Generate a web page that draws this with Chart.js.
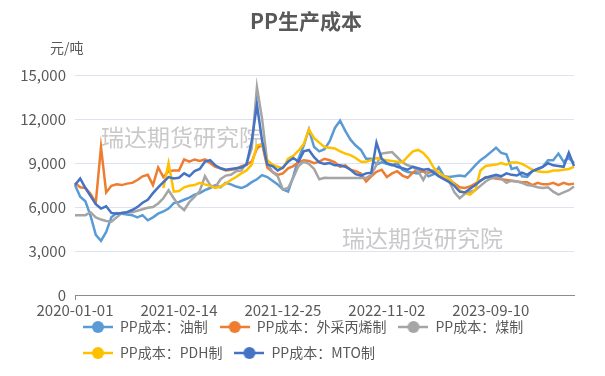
<!DOCTYPE html>
<html>
<head>
<meta charset="utf-8">
<script src="https://cdn.jsdelivr.net/npm/chart.js@4.4.1/dist/chart.umd.min.js"></script>
<style>
  html, body { margin: 0; padding: 0; background: #fff; }
  #wrap { width: 605px; height: 376px; position: relative; }
</style>
</head>
<body>
<div id="wrap"><canvas id="ppChart"></canvas></div>
<script>
// x axis labels, one every 20 points
const tickLabels = ['2020-01-01', '2021-02-14', '2021-12-25', '2022-11-02', '2023-09-10'];
const tickEvery = 20;

// PP成本：油制
const oilCost = [7500,6700,6400,5400,4100,3700,4300,5300,5600,5550,
  5500,5450,5300,5450,5100,5300,5550,5700,5900,6270,
  6350,6500,6650,6850,6950,7160,7300,7500,7350,7650,
  7550,7400,7300,7450,7700,7900,8180,8050,7800,7550,
  7200,7050,8100,9300,10200,11300,10100,9800,9950,10500,
  11400,11900,11200,10600,10200,9900,9300,9300,8900,9050,
  8950,8850,9000,8550,8400,8350,8300,8500,8100,8250,
  8700,8100,8050,8100,8150,8100,8450,8850,9200,9450,
  9750,10050,9700,9600,8600,8700,8100,8050,8450,8600,
  8750,9200,9200,9650,9100,9350,9000];

// PP成本：外采丙烯制
const propyleneCost = [7650,7350,7300,6900,6300,10100,7000,7450,7550,7500,
  7600,7650,7850,8100,8200,7500,8700,8050,8450,8500,
  8500,9250,9100,9250,9150,9250,9000,8750,8650,8500,
  8550,8600,8800,8900,9100,10000,10300,8700,8400,8200,
  8300,8650,8800,9050,9200,9150,9000,9100,9300,9200,
  9050,8750,8850,8550,8450,8300,7750,8100,8400,8550,
  8050,8300,8450,8150,8000,8350,8600,8400,8350,8450,
  8100,8000,7900,7600,7350,7300,7400,7600,7800,8050,
  8000,7950,7900,7850,7800,7750,7700,7700,7500,7650,
  7550,7550,7650,7500,7650,7550,7600];

// PP成本：煤制
const coalCost = [5450,5450,5450,5650,5300,5150,5050,5000,5300,5600,
  5650,5650,5750,5850,5950,6000,6250,6600,7150,6600,
  6100,5800,6350,6700,7100,8100,7500,7350,7900,8150,
  8200,8450,8500,9000,10000,14200,12000,9000,8400,8100,
  7200,7300,8000,8800,9100,8950,8600,7900,8000,7980,
  7980,7980,7980,7980,7980,7980,7980,8200,8900,9650,
  9700,9750,9400,9050,8850,8750,8450,7850,8500,8500,
  8100,7900,7750,7000,6600,6900,7050,7150,7450,7750,
  7950,8050,7950,7650,7800,7750,7650,7500,7450,7350,
  7300,7350,7050,6850,7000,7150,7400];

// PP成本：PDH制 (series starts later)
const pdhCost = [null,null,null,null,null,null,null,null,null,null,
  null,null,null,null,null,null,null,7300,9000,7050,
  7100,7350,7450,7500,7650,7550,7450,7300,7400,7600,
  7850,8050,8300,8500,8900,10200,10300,9200,8900,8750,
  8650,9300,9500,9850,10300,11300,10700,10400,10100,10050,
  10000,9800,9650,9550,9350,9100,9100,9200,9350,9250,
  9200,9150,9100,9050,9450,9800,9900,9700,9300,8700,
  8350,8100,7950,7500,7150,6950,6850,7150,8500,8800,
  8850,8900,9000,8900,9050,9050,8950,8750,8550,8450,
  8400,8400,8500,8500,8550,8600,8750];

// PP成本：MTO制
const mtoCost = [7500,7950,7300,6750,6200,5900,6050,5600,5550,5600,
  5650,5800,6000,6300,6500,6950,7350,7700,8050,7950,
  8000,8300,8100,8450,8600,9100,9200,8850,8650,8550,
  8600,8650,8700,8900,10500,13000,10500,8900,8800,8500,
  8700,9100,9350,9100,9800,9900,9400,9050,8950,9000,
  8850,8850,8750,8550,8250,8150,8300,8350,10400,9300,
  9000,8900,8750,8650,8550,8750,8650,8550,8600,8350,
  8100,7900,7700,7450,7050,7000,7250,7500,7800,8000,
  8100,8200,8100,8300,8200,8150,8350,8200,8450,8600,
  8750,9000,8850,8800,8750,9700,8800];

const seriesNames = ['PP成本：油制', 'PP成本：外采丙烯制', 'PP成本：煤制', 'PP成本：PDH制', 'PP成本：MTO制'];
const seriesData = [oilCost, propyleneCost, coalCost, pdhCost, mtoCost];
const seriesColors = ['#5B9BD5', '#ED7D31', '#A5A5A5', '#FFC000', '#4472C4'];

const categories = oilCost.map((v, i) => i);
const FONT = '"Noto Sans CJK SC", "Noto Sans", sans-serif';
Chart.defaults.font.family = FONT;
Chart.defaults.color = '#595959';

// line with a dot, like the legend keys in the picture
function legendMarker(color) {
  const c = document.createElement('canvas');
  c.width = 30; c.height = 14;
  const g = c.getContext('2d');
  g.strokeStyle = color;
  g.lineWidth = 2.5;
  g.beginPath(); g.moveTo(0, 7); g.lineTo(30, 7); g.stroke();
  g.fillStyle = color;
  g.beginPath(); g.arc(15, 7, 6, 0, Math.PI * 2); g.fill();
  return c;
}

const extras = {
  id: 'extras',
  afterLayout(chart) {
    // x axis box is squeezed so the legend sits close; let its labels spill below
    const x = chart.scales.x;
    x.bottom = x.top + 28;
    chart.legend.left -= 4;
    chart.legend.right -= 4;
    // title is centred on the whole picture, not on the padded area
    chart.titleBlock.left += 19;
    chart.titleBlock.right += 19;
  },
  beforeDatasetsDraw(chart) {
    const {ctx, chartArea} = chart;
    ctx.save();
    ctx.font = '23px ' + FONT;
    ctx.fillStyle = '#c9c9c9';
    ctx.textBaseline = 'middle';
    ctx.fillText('瑞达期货研究院', chartArea.left + 26, chartArea.top + 62);
    ctx.fillText('瑞达期货研究院', chartArea.left + 267, chartArea.top + 163);
    ctx.font = '14px ' + FONT;
    ctx.fillStyle = '#595959';
    ctx.fillText('元/吨', chartArea.left - 25, chartArea.top - 28);
    ctx.restore();
  }
};

new Chart(document.getElementById('ppChart'), {
  type: 'line',
  data: {
    labels: categories,
    datasets: seriesNames.map((name, k) => ({
      label: name,
      data: seriesData[k],
      borderColor: seriesColors[k],
      backgroundColor: seriesColors[k],
      borderWidth: 2.5,
      pointRadius: 0,
      pointStyle: legendMarker(seriesColors[k]),
      tension: 0,
      order: 5 - k
    }))
  },
  options: {
    responsive: true,
    maintainAspectRatio: false,
    animation: false,
    events: [],
    layout: { padding: { left: 0, right: 31, top: 0, bottom: 6 } },
    plugins: {
      title: {
        display: true,
        text: 'PP生产成本',
        color: '#595959',
        font: { size: 21, weight: 'bold' },
        padding: { top: 8, bottom: 42 }
      },
      legend: {
        position: 'bottom',
        align: 'start',
        fullSize: false,
        labels: {
          usePointStyle: true,
          pointStyleWidth: 30,
          padding: 12,
          color: '#595959',
          font: { size: 14 },
          sort: (a, b) => a.datasetIndex - b.datasetIndex
        }
      },
      tooltip: { enabled: false }
    },
    scales: {
      x: {
        grid: {
          drawOnChartArea: false,
          tickLength: 5,
          tickColor: c => (c.index % tickEvery === 0 ? '#8c8c8c' : 'transparent')
        },
        border: { color: '#8c8c8c', width: 1 },
        ticks: {
          autoSkip: false,
          maxRotation: 0,
          padding: 1,
          color: '#595959',
          font: { size: 15 },
          callback: (val, i) => (i % tickEvery === 0 ? tickLabels[i / tickEvery] : null)
        },
        afterFit: s => { s.height = 13; }
      },
      y: {
        min: 0,
        max: 15000,
        grid: { color: '#dde3ef', drawTicks: false },
        border: { display: false },
        ticks: {
          stepSize: 3000,
          padding: 9,
          color: '#595959',
          font: { size: 15 },
          callback: v => v.toLocaleString('en-US')
        },
        afterFit: s => { s.width = 75; }
      }
    }
  },
  plugins: [extras]
});
</script>
</body>
</html>
